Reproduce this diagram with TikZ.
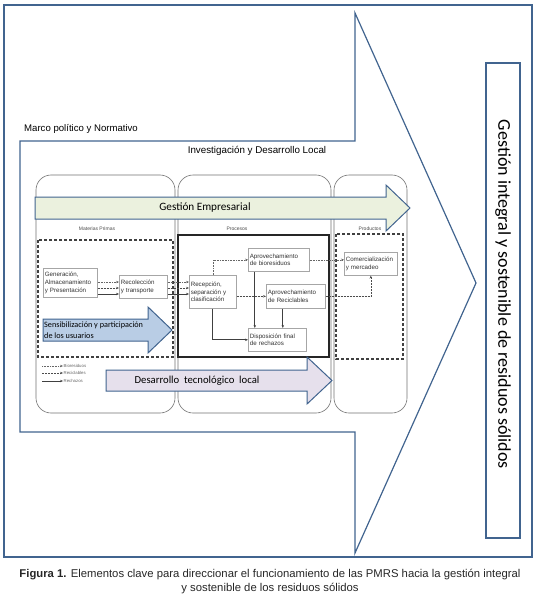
\documentclass[tikz,border=0pt]{standalone}
\usepackage{fontspec}
\setmainfont{Liberation Sans}
\newfontfamily\calibri{Carlito}
\usepackage{tikz}
\usetikzlibrary{arrows.meta,positioning}

\definecolor{framecol}{HTML}{41648F}
\definecolor{empcol}{HTML}{EBF1DE}
\definecolor{sensicol}{HTML}{B9CDE5}
\definecolor{tecnocol}{HTML}{E6E0EC}

\begin{document}
\begin{tikzpicture}[
   x=1pt, y=-1pt, >={Stealth[length=3pt,width=2.4pt]},
   frameline/.style={draw=framecol, line width=2.2pt},
   outline/.style={draw=framecol, line width=1.2pt, line join=miter},
   tab/.style={draw=black!55, line width=0.6pt, rounded corners=15pt},
   zone/.style={draw=black!75, line width=1.2pt, dash pattern=on 3pt off 2pt},
   stepbox/.style={draw=black!35, line width=0.6pt, fill=white, anchor=north west,
                   inner sep=1.5pt, align=left, text=black!80,
                   font=\fontsize{6.2}{7.8}\selectfont},
   zonelabel/.style={font=\fontsize{5}{5}\selectfont, text=black!70},
   legtxt/.style={font=\fontsize{4.3}{5}\selectfont, text=black!60, anchor=west, inner sep=0.5pt},
   biol/.style={densely dotted, black!60, line width=0.6pt},
   recil/.style={dash pattern=on 2pt off 1pt, black!70, line width=0.6pt},
   rechl/.style={black!75, line width=0.7pt}]
  \useasboundingbox (0,0) rectangle (538,599);

  % frame and main arrow
  \draw[frameline] (4,5) rectangle (532,557);
  \draw[outline, fill=white] (20,141) -- (355,141) -- (355,13) -- (476,283)
     -- (355,553) -- (355,432) -- (20,432) -- cycle;
  \draw[frameline] (486,63) rectangle (520,538);
  \node[rotate=-90, font=\calibri\fontsize{18}{20}\selectfont] (gis) at (503,294.5)
     {Gestión integral y sostenible de residuos sólidos};

  \node[anchor=west, font=\fontsize{9.6}{11}\selectfont, inner sep=0pt] (marco) at (24,129)
     {Marco político y Normativo};
  \node[font=\fontsize{9.8}{11}\selectfont, inner sep=0pt] (idl) at (257,151)
     {Investigación y Desarrollo Local};

  % stages
  \draw[tab] (36,175) rectangle (175,413);
  \draw[tab] (178,175) rectangle (331,413);
  \draw[tab] (334,175) rectangle (407,413);

  \draw[outline, fill=empcol, line width=1pt] (35,197) -- (386,197) -- (386,185) -- (410,208)
     -- (386,231) -- (386,219) -- (35,219) -- cycle;
  \node[font=\calibri\fontsize{11.2}{13}\selectfont] (emp) at (205,208) {Gestión Empresarial};

  \node[zonelabel] (lmat)  at (97,229)  {Materias Primas};
  \node[zonelabel] (lproc) at (237,229) {Procesos};
  \node[zonelabel] (lprod) at (370,229) {Productos};
  \draw[zone] (38,240) rectangle (173,357);
  \draw[black!85, line width=1.5pt] (178,235) rectangle (329,357);
  \draw[zone] (336,234) rectangle (403,359);

  % steps
  \node[stepbox, text width=51pt, minimum height=29pt] (gen) at (43,268)
     {Generación,\\Almacenamiento\\y Presentación};
  \node[stepbox, text width=45pt, minimum height=23pt] (rec) at (119,275)
     {Recolección\\y transporte};
  \node[stepbox, text width=44pt, minimum height=33pt] (recep) at (189,275)
     {Recepción,\\separación y\\clasificación};
  \node[stepbox, text width=58pt, minimum height=23pt] (bio) at (248,248)
     {Aprovechamiento\\de bioresiduos};
  \node[stepbox, text width=56pt, minimum height=24pt] (reci) at (266,284)
     {Aprovechamiento\\de Reciclables};
  \node[stepbox, text width=55pt, minimum height=23pt] (disp) at (248,328)
     {Disposición final\\de rechazos};
  \node[stepbox, text width=50pt, minimum height=23pt] (com) at (344,252)
     {Comercialización\\y mercadeo};

  \coordinate (lvlA) at (0,282);
  \coordinate (lvlB) at (0,288);
  \coordinate (lvlC) at (0,294);
  \draw[biol,->]  (gen.east |- lvlA) -- (rec.west |- lvlA);
  \draw[recil,->] (gen.east |- lvlB) -- (rec.west |- lvlB);
  \draw[rechl,->] (gen.east |- lvlC) -- (rec.west |- lvlC);
  \draw[biol,->]  (rec.east |- lvlA) -- (recep.west |- lvlA);
  \draw[recil,->] (rec.east |- lvlB) -- (recep.west |- lvlB);
  \draw[rechl,->] (rec.east |- lvlC) -- (recep.west |- lvlC);

  \draw[biol,->]  (recep.north) |- (bio.west);
  \draw[recil,->] (reci.west -| recep.east) -- (reci.west);
  \draw[rechl,->] (recep.south) |- (disp.west);
  \draw[rechl,->] ([xshift=-24pt]bio.south) -- ([xshift=-24pt]bio.south |- disp.north);
  \draw[rechl,->] ([xshift=-13pt]reci.south) -- ([xshift=-13pt]reci.south |- disp.north);
  \draw[biol,->]  (bio.east) -- (bio.east -| com.west);
  \draw[recil,->] (reci.east) -| (com.south);

  % legend
  \node[legtxt] (lbio)  at (63,366) {Bioresiduos};
  \node[legtxt] (lreci) at (63,373) {Reciclables};
  \node[legtxt] (lrech) at (63,381) {Rechazos};
  \coordinate (kbio)  at (42,366);
  \coordinate (kreci) at (42,373);
  \coordinate (krech) at (42,381);
  \draw[biol,->]  (kbio)  -- (lbio.west);
  \draw[recil,->] (kreci) -- (lreci.west);
  \draw[rechl,->] (krech) -- (lrech.west);

  % cross-cutting arrows
  \draw[outline, fill=sensicol, line width=1pt] (43,319) -- (148,319) -- (148,307) -- (172,330)
     -- (148,353) -- (148,341) -- (43,341) -- cycle;
  \node[anchor=west, align=left, inner sep=0pt, font=\calibri\fontsize{8.2}{11}\selectfont] (sensi)
     at (44,330) {Sensibilización y participación\\de los usuarios};
  \draw[outline, fill=tecnocol, line width=1pt] (106,370) -- (307,370) -- (307,357) -- (332,380.5)
     -- (307,404) -- (307,391) -- (106,391) -- cycle;
  \node[font=\calibri\fontsize{10.7}{12}\selectfont] (tecno) at (197,381)
     {Desarrollo~~tecnológico~~local};

  % caption
  \node[align=center, font=\fontsize{11.3}{14}\selectfont, text=black!85] (cap) at (270,582)
     {\textbf{Figura 1.} Elementos clave para direccionar el funcionamiento de las PMRS hacia la gestión integral\\
      y sostenible de los residuos sólidos};
\end{tikzpicture}
\end{document}
